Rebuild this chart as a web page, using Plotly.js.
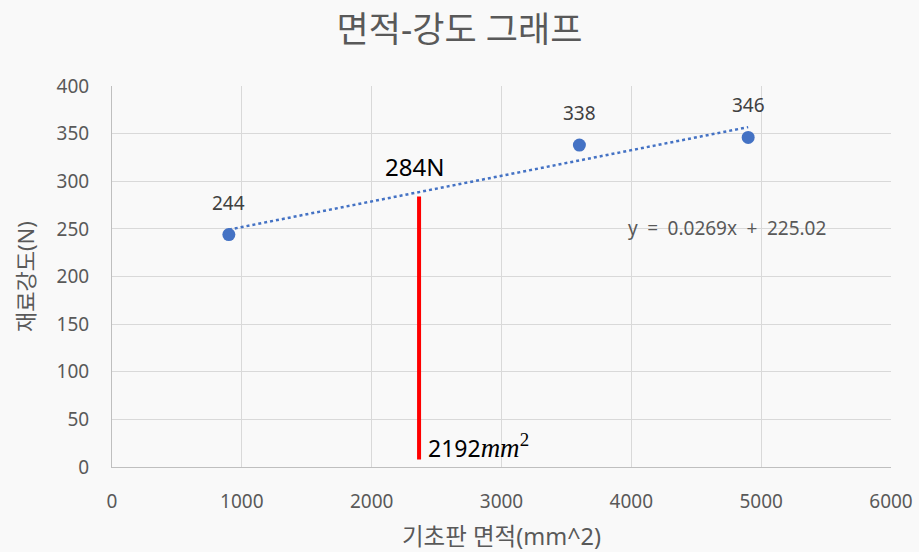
<!DOCTYPE html>
<html><head><meta charset="utf-8">
<script src="https://cdn.plot.ly/plotly-3.0.1.min.js"></script>
<style>body{margin:0;background:#f9f9f9}</style>
</head><body><div id="chart" style="width:919px;height:552px"></div>
<script>
const areas = [900, 3600, 4900];
const strengths = [244, 338, 346];
const slope = 0.0269, intercept = 225.02;
const trendX = [900, 4900];
const trendY = trendX.map(x => slope * x + intercept);
const markX = 2365, markTop = 284, markBottom = 8;
const markLabel = '284N';
const areaLabel = '2192';
const eqLabel = 'y\u2002=\u20020.0269x\u2002+\u2002225.02';

const font = '"Noto Sans", "Noto Sans CJK KR", sans-serif';
const traces = [
  {x: trendX, y: trendY, mode: 'lines', line: {color: '#4472c4', width: 2.5, dash: 'dot'}, hoverinfo: 'skip'},
  {x: areas, y: strengths, mode: 'markers', marker: {color: '#4472c4', size: 13}},
  {x: [markX, markX], y: [markBottom, markTop], mode: 'lines', line: {color: '#ff0000', width: 4}}
];
const annotations = areas.map((x, i) => ({
  x: x, y: strengths[i], text: String(strengths[i]), showarrow: false,
  yshift: 32, font: {size: 19, color: '#404040', family: font}
}));
annotations.push({x: markX, y: markTop, text: markLabel, showarrow: false, yshift: 30, xshift: -5,
  font: {size: 24, color: '#000000', family: font}});
annotations.push({x: markX, y: markBottom, text: areaLabel + '<span style="font-family:Liberation Serif;font-size:27px"><i>mm</i><sup>2</sup></span>',
  showarrow: false, xanchor: 'left', xshift: 7, yshift: 13, font: {size: 23, color: '#000000', family: font}});
annotations.push({x: 4000, y: 251, text: eqLabel, showarrow: false, xanchor: 'left', xshift: -5,
  font: {size: 19, color: '#595959', family: font}});

const layout = {
  width: 919, height: 552,
  paper_bgcolor: '#f9f9f9', plot_bgcolor: '#f9f9f9',
  margin: {l: 112, r: 28, t: 86, b: 85},
  showlegend: false,
  title: {text: '면적-강도 그래프', font: {size: 35, color: '#595959', family: font}, x: 0.5, xanchor: 'center', y: 0.947, yanchor: 'middle'},
  xaxis: {range: [0, 6000], dtick: 1000, showgrid: true, gridcolor: '#d9d9d9', gridwidth: 1,
    zeroline: false, showline: true, linecolor: '#bfbfbf', ticks: '', ticklen: 0, ticklabelstandoff: 17,
    tickfont: {size: 19, color: '#595959', family: font}, fixedrange: true,
    title: {text: '기초판 면적(mm^2)', font: {size: 23.5, color: '#595959', family: font}, standoff: 17}},
  yaxis: {range: [0, 400], dtick: 50, showgrid: true, gridcolor: '#d9d9d9', gridwidth: 1,
    zeroline: false, showline: true, linecolor: '#bfbfbf', ticks: '', ticklabelstandoff: 18,
    tickfont: {size: 19, color: '#595959', family: font}, fixedrange: true,
    title: {text: '재료강도(N)', font: {size: 22, color: '#595959', family: font}, standoff: 15}},
  annotations: annotations
};
Plotly.newPlot('chart', traces, layout, {displayModeBar: false, staticPlot: true});
</script></body></html>
